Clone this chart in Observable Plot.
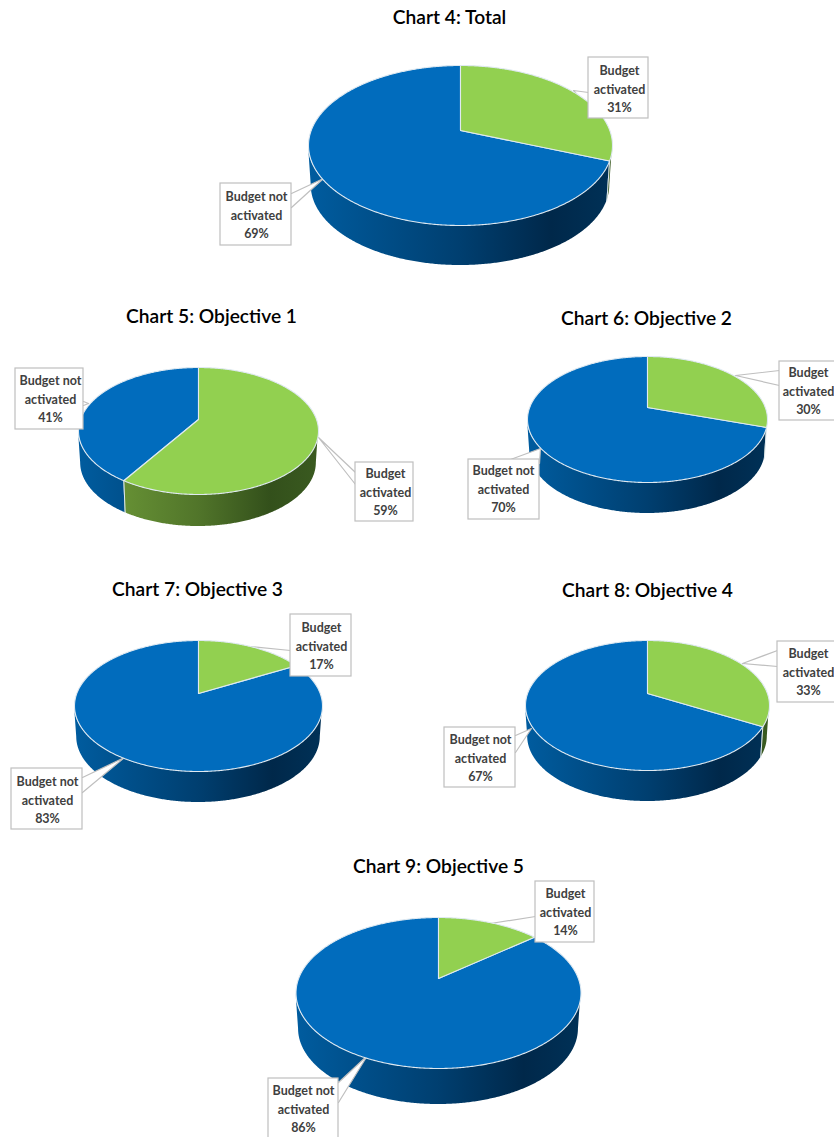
<!DOCTYPE html>
<html>
<head>
<meta charset="utf-8">
<script src="https://cdn.jsdelivr.net/npm/d3@7"></script>
<script src="https://cdn.jsdelivr.net/npm/@observablehq/plot@0.6"></script>
<style>
  html, body { margin: 0; padding: 0; background: #fff; overflow: hidden; }
  svg { display: block; }
</style>
</head>
<body>
<div id="chart"></div>
<script>
// ---------- values ----------
const chartTitles = ["Chart 4: Total", "Chart 5: Objective 1", "Chart 6: Objective 2",
                     "Chart 7: Objective 3", "Chart 8: Objective 4", "Chart 9: Objective 5"];
const budgetActivated = [31, 59, 30, 17, 33, 14];
const budgetNotActivated = [69, 41, 70, 83, 67, 86];
const activatedLabel = "Budget\nactivated";
const notActivatedLabel = "Budget not\nactivated";

// ---------- layout (positions and sizes, separate from the values) ----------
// pie: centre x, apex y, rim left/right extent, rim top/bottom, wall depth
const pies = [
  {cx: 460, ya: 130, rx: 152, top: 65,  bot: 225,  depth: 40},
  {cx: 198, ya: 419, rx: 120, top: 367, bot: 494,  depth: 32},
  {cx: 647, ya: 407, rx: 120, top: 356, bot: 482,  depth: 31},
  {cx: 198, ya: 693, rx: 124, top: 640, bot: 771,  depth: 31},
  {cx: 647, ya: 693, rx: 122, top: 640, bot: 770,  depth: 31},
  {cx: 438, ya: 978, rx: 142.5, top: 917, bot: 1068, depth: 36}
];
const titlePos = [[449, 17.5], [211, 316.5], [646, 318.5], [197, 589.5], [647, 590.5], [438, 866.5]];
// label boxes [x1, y1, x2, y2], text centre [x, y], wedge [tipx, tipy, ax, ay, bx, by]
const greenBox = [
  {b: [588, 57, 648, 118],  t: [619, 87.5],  w: [573, 90, 588, 92, 588, 107]},
  {b: [355, 462, 413, 521], t: [385, 490.5], w: [318, 437, 355, 472, 355, 484]},
  {b: [779, 361, 840, 420], t: [808, 389.5], w: [735, 375, 779, 370, 779, 385]},
  {b: [290, 614, 351, 676], t: [321, 644.5], w: [250, 646, 290, 650, 290, 667]},
  {b: [777, 641, 840, 702], t: [808, 670.5], w: [742, 663, 777, 650, 777, 666]},
  {b: [535, 881, 594, 942], t: [565, 910.5], w: [490, 923, 535, 916, 535, 939]}
];
const blueBox = [
  {b: [220, 183, 291, 245],  t: [256, 213.5],  w: [323, 178, 291, 193, 291, 207]},
  {b: [15, 368, 83, 429],    t: [50, 397.5],   w: [88, 403, 83, 401, 83, 405]},
  {b: [468, 459, 539, 519],  t: [503, 487.5],  w: [540, 448, 510, 459, 539, 463]},
  {b: [11, 768, 82, 829],    t: [47, 798.5],   w: [124, 757, 82, 777, 82, 792]},
  {b: [444, 727, 515, 787],  t: [480, 756.5],  w: [531, 728, 515, 735, 515, 752]},
  {b: [268, 1078, 338, 1150], t: [303, 1107.5], w: [367, 1055, 338, 1082, 338, 1102]}
];
const BLUE = "#016cbd", GREEN = "#92d050", EDGE = "#dfe9f1", BOXLINE = "#bfbfbf";
const wallStops = {
  blue:  [[0, "#005c9f"], [0.5, "#003f70"], [0.8, "#00284a"], [1, "#003157"]],
  green: [[0, "#72a03a"], [0.5, "#51752a"], [0.8, "#33501b"], [1, "#3a5a20"]]
};

// ---------- geometry: a circle seen in perspective, so the apex sits above the rim centre ----------
function rimFn(p) {
  const A = p.ya - p.top, B = p.bot - p.ya, c = (B - A) / (A + B);
  const k = A * (1 + c), q = p.rx * Math.sqrt(1 - c * c);
  const f = th => {
    const u = Math.sin(th), v = Math.cos(th), w = 1 + c * v;
    return {x: p.cx + q * u / w, y: p.ya - k * v / w};
  };
  f.th0 = Math.acos(-c);
  return f;
}
function arc(f, a, b) {
  const n = Math.max(2, Math.ceil(Math.abs(b - a) / (Math.PI / 360))), out = [];
  for (let i = 0; i <= n; ++i) out.push(f(a + (b - a) * i / n));
  return out;
}

const wallMarks = [], wedgeMarks = [], sliceMarks = [], boxMarks = [];

// gradient definitions for the walls, one per pie and colour
const gradients = () => {
  const defs = d3.create("svg:defs");
  pies.forEach((p, i) => {
    for (const key of ["blue", "green"]) {
      const g = defs.append("linearGradient").attr("id", `wall-${key}-${i}`)
        .attr("gradientUnits", "userSpaceOnUse")
        .attr("x1", p.cx - p.rx).attr("x2", p.cx + p.rx).attr("y1", 0).attr("y2", 0);
      for (const [o, col] of wallStops[key]) g.append("stop").attr("offset", o).attr("stop-color", col);
    }
  });
  return defs.node();
};

pies.forEach((p, i) => {
  const f = rimFn(p);
  const end = 2 * Math.PI * budgetActivated[i] / (budgetActivated[i] + budgetNotActivated[i]);
  const t0 = f.th0, t1 = 2 * Math.PI - f.th0;
  const wall = (a, b, key) => {
    if (b <= a) return;
    const d = arc(f, a, b);
    wallMarks.push(Plot.area(d, {
      x1: "x", y1: "y",
      x2: v => p.cx + (v.x - p.cx) * 0.982, y2: v => v.y + p.depth,
      fill: `url(#wall-${key}-${i})`, curve: "linear"
    }));
  };
  wall(t0, Math.min(end, t1), "green");
  wall(Math.max(end, t0), t1, "blue");
  if (end > t0 && end < t1) {
    const e = f(end);
    wallMarks.push(Plot.line([e, {x: p.cx + (e.x - p.cx) * 0.982, y: e.y + p.depth}],
      {x: "x", y: "y", stroke: EDGE, strokeWidth: 1}));
  }
  const apex = {x: p.cx, y: p.ya};
  const slice = (a, b, fill) => sliceMarks.push(Plot.line([apex, ...arc(f, a, b), apex], {
    x: "x", y: "y", fill, stroke: EDGE, strokeWidth: 1.1, strokeLinejoin: "round", curve: "linear"
  }));
  slice(end, 2 * Math.PI, BLUE);
  slice(0, end, GREEN);
});

// label callouts: wedge (behind the pie top), then box and text
const callout = (items, name, values) => items.forEach((it, i) => {
  const [tx, ty, ax, ay, bx, by] = it.w;
  wedgeMarks.push(Plot.line([[ax, ay], [tx, ty], [bx, by]], {
    fill: "white", stroke: BOXLINE, strokeWidth: 1.2, curve: "linear"
  }));
  boxMarks.push(Plot.rect([it.b], {
    x1: d => d[0], y1: d => d[1], x2: d => d[2], y2: d => d[3],
    fill: "white", stroke: BOXLINE, strokeWidth: 1.2
  }));
  boxMarks.push(Plot.text([`${name}\n${values[i]}%`], {
    x: () => it.t[0], y: () => it.t[1], text: d => d,
    fontFamily: "Lato", fontWeight: 700, fontSize: 12.5, lineHeight: 1.48,
    fill: "#404040", textAnchor: "middle", lineAnchor: "middle"
  }));
});
callout(greenBox, activatedLabel, budgetActivated);
callout(blueBox, notActivatedLabel, budgetNotActivated);

// titles
const titleMark = Plot.text(chartTitles, {
  x: (d, i) => titlePos[i][0], y: (d, i) => titlePos[i][1], text: d => d,
  fontFamily: "Lato", fontWeight: 600, fontSize: 19.2, fill: "#000", lineAnchor: "middle", textAnchor: "middle"
});

const chart = Plot.plot({
  width: 834, height: 1137, margin: 0,
  style: {background: "white", overflow: "hidden"},
  x: {axis: null, domain: [0, 834], range: [0, 834]},
  y: {axis: null, domain: [0, 1137], range: [0, 1137]},
  marks: [gradients, ...wallMarks, ...wedgeMarks, ...sliceMarks, ...boxMarks, titleMark]
});
document.getElementById("chart").appendChild(chart);
</script>
</body>
</html>
